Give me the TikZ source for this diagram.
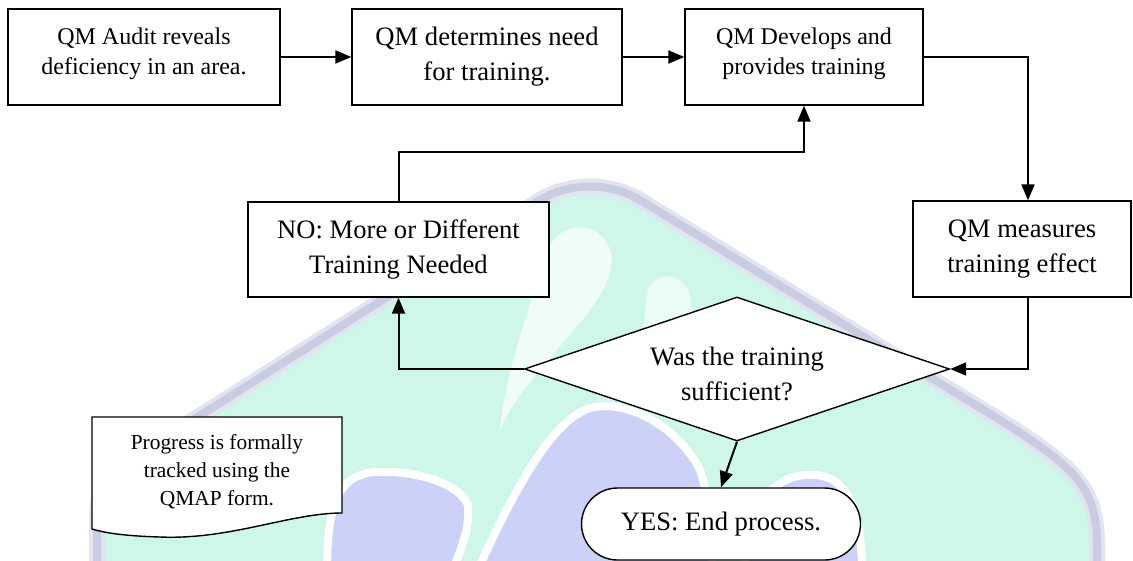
\documentclass[tikz,border=0pt]{standalone}
\usepackage{fontspec}
\setmainfont{Liberation Serif}
\usetikzlibrary{shapes.geometric,arrows.meta}
\definecolor{mint}{RGB}{206,247,234}
\definecolor{lav}{RGB}{204,210,247}
\definecolor{rim}{RGB}{202,204,226}
\definecolor{rimsoft}{RGB}{226,228,240}

\begin{document}
\begin{tikzpicture}[x=0.5pt,y=-0.5pt,
  box/.style={draw, line width=0.7pt, fill=white, align=center, inner sep=2pt},
  bigtxt/.style={font=\fontsize{13.3}{17.5}\selectfont},
  smalltxt/.style={font=\fontsize{12}{15}\selectfont},
  arr/.style={line width=1pt, -{Triangle[length=8pt,width=6.5pt]}},
  blob/.style={fill=lav, draw=white, line width=4pt},
]
\useasboundingbox (0,0) rectangle (1133,561);

% faint logo in the background
\fill[mint] (97,561) -- (97,520) .. controls (97,490) and (105,475) .. (130,460)
  -- (540,200) .. controls (570,182) and (610,182) .. (640,200)
  -- (1000,420) .. controls (1080,470) and (1095,490) .. (1097,540) -- (1097,561) -- cycle;
\draw[rimsoft, line width=8pt, line join=round] (97,561) -- (97,520) .. controls (97,490) and (105,475) .. (130,460)
  -- (540,200) .. controls (570,182) and (610,182) .. (640,200)
  -- (1000,420) .. controls (1080,470) and (1095,490) .. (1097,540) -- (1097,561);
\draw[rim, line width=4pt, line join=round] (97,561) -- (97,520) .. controls (97,490) and (105,475) .. (130,460)
  -- (540,200) .. controls (570,182) and (610,182) .. (640,200)
  -- (1000,420) .. controls (1080,470) and (1095,490) .. (1097,540) -- (1097,561);
\fill[white, opacity=0.7] (500,430) .. controls (530,360) and (625,300) .. (610,250)
  .. controls (600,220) and (560,220) .. (548,250) .. controls (535,290) and (505,370) .. (500,430);
\fill[white, opacity=0.6] (650,395) .. controls (660,360) and (700,330) .. (690,295)
  .. controls (682,270) and (652,270) .. (647,295) .. controls (642,320) and (645,360) .. (650,395);
\filldraw[blob] (327,565) .. controls (328,500) and (340,475) .. (375,472)
  .. controls (420,470) and (460,485) .. (468,505) .. controls (470,530) and (460,550) .. (455,565) -- cycle;
\filldraw[blob] (480,565) .. controls (510,500) and (550,420) .. (590,408)
  .. controls (630,398) and (680,430) .. (700,470) .. controls (710,500) and (712,540) .. (712,565) -- cycle;
\filldraw[blob] (745,565) .. controls (748,510) and (770,478) .. (805,475)
  .. controls (840,472) and (860,495) .. (862,565) -- cycle;

% process steps
\node[box, minimum width=136pt, minimum height=48pt] (audit) at (144,57) {};
\node[smalltxt, align=center] (audittxt) at ([yshift=1.5pt]audit.center)
  {QM Audit reveals\\deficiency in an area.};
\node[box, bigtxt, minimum width=135pt, minimum height=48pt] (need) at (487,57)
  {QM determines need\\for training.};
\node[box, minimum width=119pt, minimum height=48pt] (dev) at (804,57) {};
\node[smalltxt, align=center] (devtxt) at ([yshift=1.5pt]dev.center)
  {QM Develops and\\provides training};
\node[box, bigtxt, minimum width=109pt, minimum height=48pt] (meas) at (1022,249)
  {QM measures\\training effect};
\node[box, bigtxt, minimum width=150.5pt, minimum height=47.5pt] (no) at (398.5,249.5)
  {NO: More or Different\\Training Needed};
\node[diamond, draw, line width=0.7pt, fill=white, aspect=2.95, inner sep=0pt,
  minimum width=212.5pt, minimum height=72pt] (dec) at (737,369) {};
\node[bigtxt, align=center] (dectxt) at ([yshift=-2.5pt]dec.center)
  {Was the training\\sufficient?};
\node[draw, line width=0.7pt, fill=white, rounded corners=18pt, minimum width=139.5pt,
  minimum height=36pt, bigtxt] (yes) at (721,524) {YES: End process.};

% document note
\draw[line width=0.7pt, fill=white] (92,417) -- (342,417) -- (342,513)
  .. controls (290,513) and (230,540) .. (160,537) .. controls (125,536) and (105,533) .. (92,529) -- cycle;
\node[align=center, font=\fontsize{10.7}{14}\selectfont] (note) at (217,472)
  {Progress is formally\\tracked using the\\QMAP form.};

% connectors
\draw[arr] (audit.east) -- (need.west);
\draw[arr] (need.east) -- (dev.west);
\draw[arr] (dev.east) -| ([xshift=3pt]meas.north);
\draw[arr] ([xshift=3pt]meas.south) |- (dec.east);
\draw[arr] (dec.west) -| (no.south);
\draw[arr] (no.north) -- ++(0,-49) -| (dev.south);
\draw[arr] (dec.south) -- (yes.north);
\end{tikzpicture}
\end{document}
